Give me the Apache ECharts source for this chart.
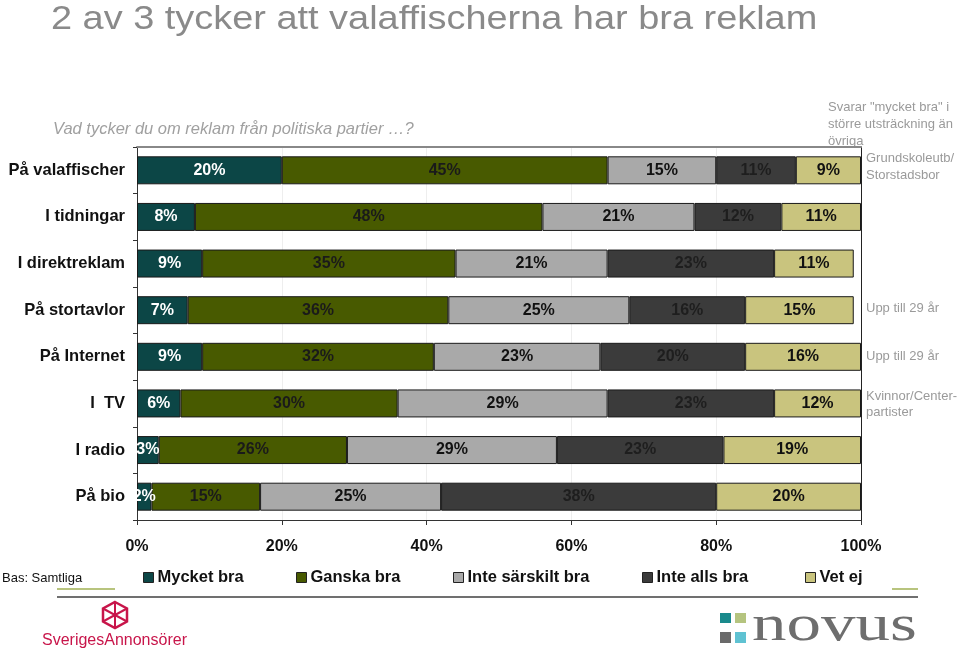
<!DOCTYPE html>
<html>
<head>
<meta charset="utf-8">
<script src="https://cdn.jsdelivr.net/npm/echarts@6/dist/echarts.min.js"></script>
<style>html,body{margin:0;padding:0;background:#fff}#c{width:960px;height:656px}</style>
</head>
<body>
<div id="c"></div>
<script>
const categories = ['På valaffischer','I tidningar','I direktreklam','På stortavlor','På Internet','I  TV','I radio','På bio'];
const seriesNames = ['Mycket bra','Ganska bra','Inte särskilt bra','Inte alls bra','Vet ej'];
const mycketBra = [20, 8, 9, 7, 9, 6, 3, 2];
const ganskaBra = [45, 48, 35, 36, 32, 30, 26, 15];
const inteSarskiltBra = [15, 21, 21, 25, 23, 29, 29, 25];
const inteAllsBra = [11, 12, 23, 16, 20, 23, 23, 38];
const vetEj = [9, 11, 11, 15, 16, 12, 19, 20];
const xTicks = [0, 20, 40, 60, 80, 100];

const colors = ['#0c4646', '#485a00', '#a9a9a9', '#3b3b3b', '#c9c47e'];
const labelColors = ['#ffffff', '#1a1a1a', '#111111', '#1e1e1e', '#111111'];
const values = [mycketBra, ganskaBra, inteSarskiltBra, inteAllsBra, vetEj];
const legendX = [143, 296, 453, 642, 805];
const F = 'Arial, "Liberation Sans", sans-serif';

const chart = echarts.init(document.getElementById('c'));
const series = values.map((v, i) => ({
  name: seriesNames[i],
  type: 'bar',
  stack: 'all',
  data: v,
  barWidth: '60%',
  itemStyle: { color: colors[i], borderColor: '#1a1a1a', borderWidth: 1 },
  label: {
    show: true, position: 'inside', formatter: '{c}%',
    color: labelColors[i], fontSize: 16, fontWeight: 'bold', fontFamily: F
  }
}));

const legends = seriesNames.map((n, i) => ({
  data: [n], left: legendX[i], top: 569, padding: 0, itemWidth: 10, itemHeight: 10,
  icon: 'rect', itemGap: 0,
  itemStyle: { borderColor: '#222', borderWidth: 1 },
  textStyle: { fontSize: 16.5, fontWeight: 'bold', color: '#111', fontFamily: F, padding: [0, 0, 0, -1] }
}));

const gray = '#9a9a9a';
chart.setOption({
  animation: false,
  title: [
    { text: 'Vad tycker du om reklam från politiska partier \u2026?', left: 48, top: 116,
      textStyle: { fontSize: 16.5, fontWeight: 'normal', fontStyle: 'italic', color: '#a0a0a0', fontFamily: F } }
  ],
  legend: legends,
  grid: { left: 137, right: 99, top: 147, bottom: 136, containLabel: false },
  xAxis: [{
    type: 'value', min: 0, max: 100, interval: 20,
    axisLine: { show: true, lineStyle: { color: '#333', width: 1 } },
    axisTick: { show: true, length: 5, lineStyle: { color: '#333' } },
    axisLabel: { formatter: (v) => xTicks.includes(v) ? v + '%' : '', margin: 19, fontSize: 16, fontWeight: 'bold', color: '#111', fontFamily: F },
    splitLine: { show: true, lineStyle: { color: '#eeeeee', width: 1 } }
  }, {
    type: 'value', position: 'top', min: 0, max: 100,
    axisLine: { show: true, onZero: false, lineStyle: { color: '#888', width: 2 } },
    axisTick: { show: false }, axisLabel: { show: false }, splitLine: { show: false }
  }],
  yAxis: [{
    type: 'category', data: categories, inverse: true,
    axisLine: { show: true, lineStyle: { color: '#333' } },
    axisTick: { show: true, length: 4, lineStyle: { color: '#333' } },
    axisLabel: { margin: 12, fontSize: 16.5, fontWeight: 'bold', color: '#111', fontFamily: F }
  }, {
    type: 'category', data: categories, inverse: true, position: 'right',
    axisLine: { show: true, onZero: false, lineStyle: { color: '#222' } },
    axisTick: { show: false }, axisLabel: { show: false }
  }],
  series: series,
  graphic: [
    { type: 'text', x: 51, y: 3, scaleX: 1.115, style: { text: '2 av 3 tycker att valaffischerna har bra reklam', fill: '#8a8a8a', font: '34px ' + F } },
    { type: 'text', left: 828, top: 99, style: { text: 'Svarar "mycket bra" i\nstörre utsträckning än\növriga', fill: gray, font: '13px ' + F, lineHeight: 17 } },
    { type: 'text', left: 866, top: 150, style: { text: 'Grundskoleutb/\nStorstadsbor', fill: gray, font: '13px ' + F, lineHeight: 17 } },
    { type: 'text', left: 866, top: 302, style: { text: 'Upp till 29 år', fill: gray, font: '13px ' + F } },
    { type: 'text', left: 866, top: 350, style: { text: 'Upp till 29 år', fill: gray, font: '13px ' + F } },
    { type: 'text', left: 866, top: 388, style: { text: 'Kvinnor/Center-\npartister', fill: gray, font: '13px ' + F, lineHeight: 16 } },
    { type: 'text', left: 2, top: 572, style: { text: 'Bas: Samtliga', fill: '#111', font: '13px ' + F } },
    { type: 'line', shape: { x1: 57, y1: 589, x2: 115, y2: 589 }, style: { stroke: '#b8c47e', lineWidth: 2 } },
    { type: 'line', shape: { x1: 892, y1: 589, x2: 918, y2: 589 }, style: { stroke: '#b8c47e', lineWidth: 2 } },
    { type: 'line', shape: { x1: 57, y1: 597, x2: 918, y2: 597 }, style: { stroke: '#707070', lineWidth: 2 } },
    // SverigesAnnonsörer logo
    { type: 'polygon', shape: { points: [[115,602],[127,608.5],[127,621.5],[115,628],[103,621.5],[103,608.5]] }, style: { fill: 'none', stroke: '#c8154a', lineWidth: 2.5 } },
    { type: 'polyline', shape: { points: [[103,608.5],[127,621.5]] }, style: { stroke: '#c8154a', lineWidth: 2 } },
    { type: 'polyline', shape: { points: [[127,608.5],[103,621.5]] }, style: { stroke: '#c8154a', lineWidth: 2 } },
    { type: 'polyline', shape: { points: [[115,602],[115,628]] }, style: { stroke: '#c8154a', lineWidth: 2 } },
    { type: 'text', left: 42, top: 633, style: { text: 'SverigesAnnonsörer', fill: '#c8154a', font: '16px ' + F } },
    // novus logo
    { type: 'rect', shape: { x: 720, y: 613, width: 11, height: 10 }, style: { fill: '#1a8a8c' } },
    { type: 'rect', shape: { x: 735, y: 613, width: 11, height: 10 }, style: { fill: '#b5c47f' } },
    { type: 'rect', shape: { x: 720, y: 632, width: 11, height: 11 }, style: { fill: '#6a6a6a' } },
    { type: 'rect', shape: { x: 735, y: 632, width: 11, height: 11 }, style: { fill: '#5fc2d2' } },
    { type: 'text', x: 752, y: 652, scaleX: 1.5, scaleY: 1.1, style: { text: 'novus', fill: '#6e6e6e', font: '46px "Liberation Serif", serif', textVerticalAlign: 'bottom', verticalAlign: 'bottom' } }
  ]
});
</script>
</body>
</html>
